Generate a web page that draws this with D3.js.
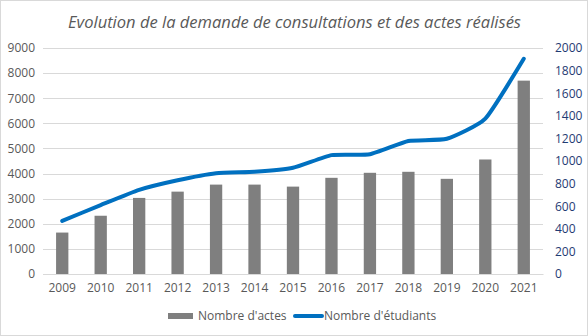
<!DOCTYPE html>
<html>
<head>
<meta charset="utf-8">
<script src="https://cdn.jsdelivr.net/npm/d3@7"></script>
<style>
  body { margin: 0; background: #fff; }
  text { font-family: "Open Sans", sans-serif; }
</style>
</head>
<body>
<div id="chart"></div>
<script>
// data
var years = ['2009', '2010', '2011', '2012', '2013', '2014', '2015', '2016', '2017', '2018', '2019', '2020', '2021']
var actes = [1650, 2320, 3030, 3280, 3560, 3560, 3480, 3830, 4030, 4070, 3790, 4560, 7700]
var etudiants = [470, 610, 745, 830, 892, 905, 940, 1052, 1060, 1177, 1197, 1375, 1905]
var leftTicks = [0, 1000, 2000, 3000, 4000, 5000, 6000, 7000, 8000, 9000]
var rightTicks = [0, 200, 400, 600, 800, 1000, 1200, 1400, 1600, 1800, 2000]

var W = 588
var H = 336
var margin = { top: 48, right: 45, bottom: 62, left: 43 }
var width = W - margin.left - margin.right
var height = H - margin.top - margin.bottom

var root = d3.select('#chart')
  .append('svg')
  .attr('width', W)
  .attr('height', H)

root.append('rect')
  .attr('x', 0.5).attr('y', 0.5)
  .attr('width', W - 1).attr('height', H - 1)
  .attr('fill', '#fff')
  .attr('stroke', '#d9d9d9')

root.append('text')
  .attr('x', 68)
  .attr('y', 28)
  .attr('font-size', 17)
  .attr('font-style', 'italic')
  .attr('fill', '#595959')
  .attr('textLength', 453)
  .attr('lengthAdjust', 'spacingAndGlyphs')
  .text('Evolution de la demande de consultations et des actes réalisés')

var svg = root.append('g')
  .attr('transform', 'translate(' + margin.left + ',' + margin.top + ')')

var x = d3.scaleBand()
  .domain(years)
  .range([0, width])
  .paddingInner(0.68)
  .paddingOuter(0.34)

var yLeft = d3.scaleLinear().domain([0, 9000]).range([height, 0])
var yRight = d3.scaleLinear().domain([0, 2000]).range([height, 0])

// gridlines
svg.append('g')
  .selectAll('line')
  .data(leftTicks)
  .enter().append('line')
  .attr('x1', 0).attr('x2', width)
  .attr('y1', d => Math.round(yLeft(d)) + 0.5)
  .attr('y2', d => Math.round(yLeft(d)) + 0.5)
  .attr('stroke', '#d9d9d9')

// left axis
var leftAxis = svg.append('g')
  .call(d3.axisLeft(yLeft).tickValues(leftTicks).tickFormat(d3.format('d')).tickSize(0).tickPadding(8))
leftAxis.select('.domain').remove()
leftAxis.selectAll('text')
  .attr('font-size', 12)
  .attr('fill', '#595959')
  .style('font-family', '"Open Sans", sans-serif')

// right axis
var rightAxis = svg.append('g')
  .attr('transform', 'translate(' + width + ',0)')
  .call(d3.axisRight(yRight).tickValues(rightTicks).tickFormat(d3.format('d')).tickSize(0).tickPadding(12))
rightAxis.select('.domain').remove()
rightAxis.selectAll('text')
  .attr('font-size', 12)
  .attr('fill', '#1f3b73')
  .style('font-family', '"Open Sans", sans-serif')

// bottom axis
var xAxis = svg.append('g')
  .attr('transform', 'translate(0,' + height + ')')
  .call(d3.axisBottom(x).tickSize(0).tickPadding(9))
xAxis.select('.domain').attr('stroke', '#d9d9d9')
xAxis.selectAll('text')
  .attr('font-size', 12)
  .attr('fill', '#595959')
  .style('font-family', '"Open Sans", sans-serif')

// bars
svg.selectAll('rect.bar')
  .data(years)
  .enter().append('rect')
  .attr('class', 'bar')
  .attr('x', d => x(d))
  .attr('width', x.bandwidth())
  .attr('y', (d, i) => yLeft(actes[i]))
  .attr('height', (d, i) => height - yLeft(actes[i]))
  .attr('fill', '#7f7f7f')

// line
var line = d3.line()
  .x((d, i) => x(years[i]) + x.bandwidth() / 2)
  .y(d => yRight(d))
  .curve(d3.curveCardinal.tension(0.5))

svg.append('path')
  .datum(etudiants)
  .attr('d', line)
  .attr('fill', 'none')
  .attr('stroke', '#0070c0')
  .attr('stroke-width', 4)
  .attr('stroke-linecap', 'round')

// legend
var legend = root.append('g').attr('transform', 'translate(0,316)')
legend.append('rect')
  .attr('x', 168).attr('y', -3)
  .attr('width', 25).attr('height', 6)
  .attr('fill', '#7f7f7f')
legend.append('text')
  .attr('x', 198).attr('y', 4)
  .attr('font-size', 12)
  .attr('fill', '#595959')
  .text("Nombre d'actes")
legend.append('line')
  .attr('x1', 295).attr('x2', 322)
  .attr('y1', 0).attr('y2', 0)
  .attr('stroke', '#0070c0')
  .attr('stroke-width', 4)
  .attr('stroke-linecap', 'round')
legend.append('text')
  .attr('x', 324).attr('y', 4)
  .attr('font-size', 12)
  .attr('fill', '#595959')
  .text("Nombre d'étudiants")
</script>
</body>
</html>
